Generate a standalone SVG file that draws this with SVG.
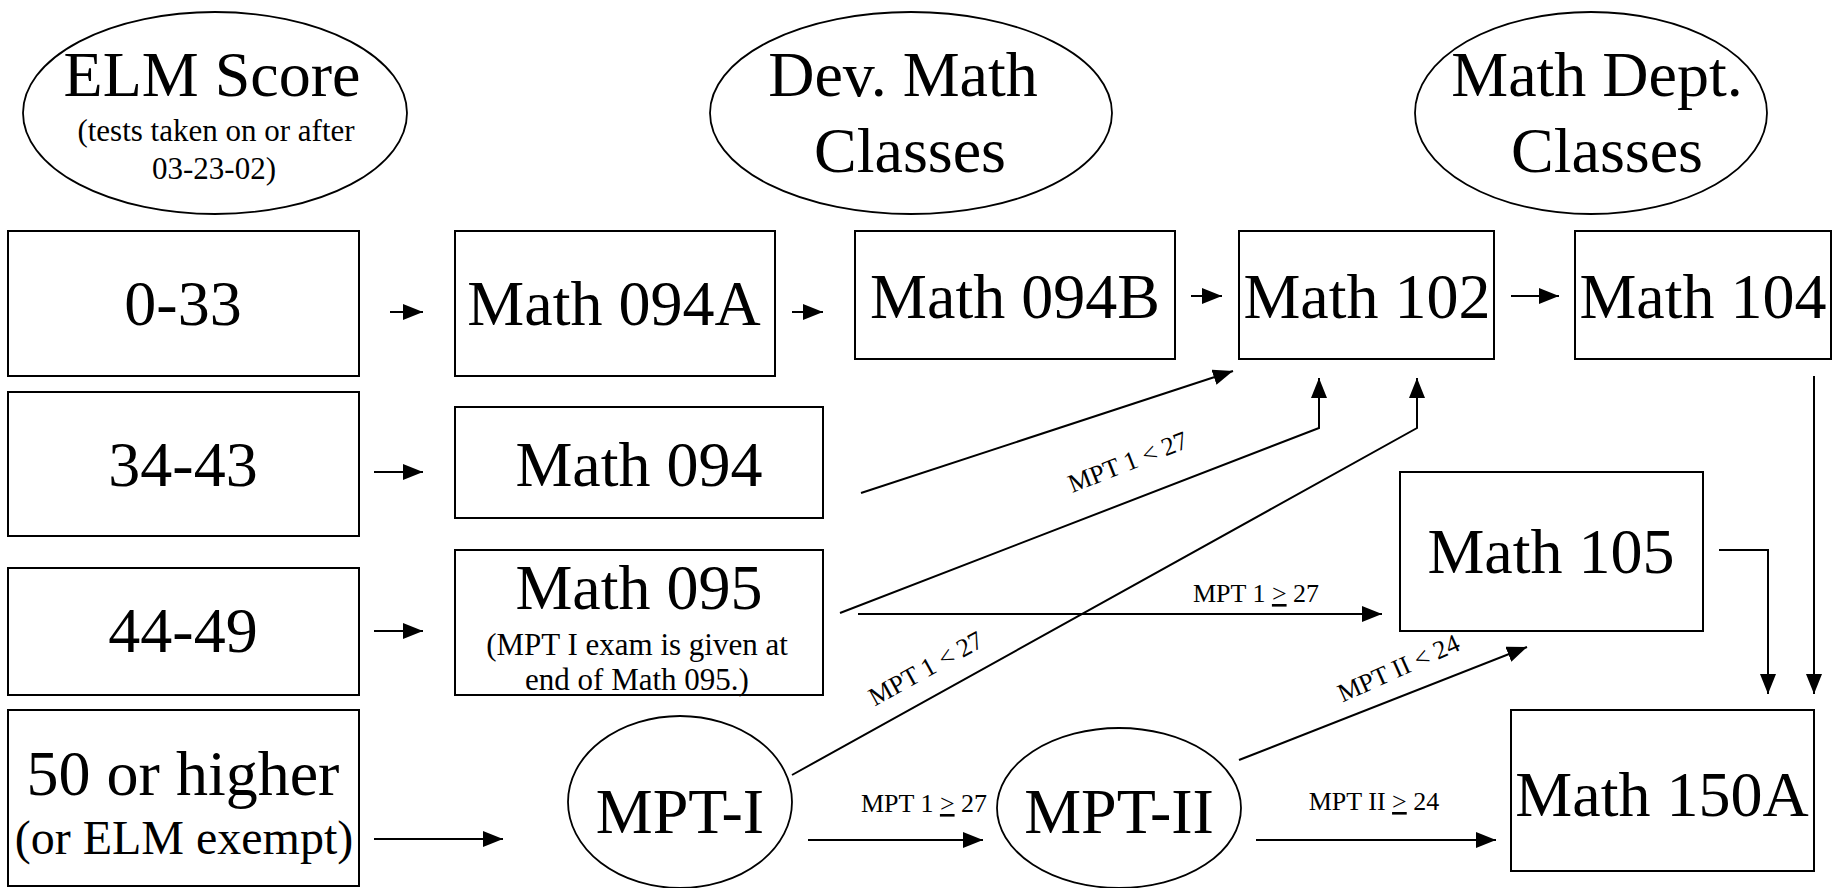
<svg xmlns="http://www.w3.org/2000/svg" width="1835" height="888" viewBox="0 0 1835 888" font-family="'Liberation Serif', 'Times New Roman', serif">
<style>
text{font-family:"Liberation Serif","Times New Roman",serif;fill:#000;text-anchor:middle}
.box{fill:#fff;stroke:#000;stroke-width:2}
.ell{fill:#fff;stroke:#000;stroke-width:1.8}
.big{font-size:64px}
.mid{font-size:48px}
.sm{font-size:31px}
.lbl{font-size:26px}
.u{text-decoration:underline}
.c{fill:none;stroke:#000;stroke-width:2}
</style>
<defs>
<marker id="ah" markerUnits="userSpaceOnUse" markerWidth="22" markerHeight="18" refX="20" refY="8" orient="auto">
<path d="M0,0 L20,8 L0,16 z" fill="#000"/>
</marker>
</defs>
<rect width="1835" height="888" fill="#fff"/>

<g id="elm-score">
<ellipse class="ell" cx="215" cy="113" rx="192" ry="101"/>
<text class="big" x="212" y="96">ELM Score</text>
<text class="sm" x="216" y="141">(tests taken on or after</text>
<text class="sm" x="214" y="179">03-23-02)</text>
</g>
<g id="dev-math">
<ellipse class="ell" cx="911" cy="113" rx="201" ry="101"/>
<text class="big" x="903" y="96">Dev. Math</text>
<text class="big" x="910" y="172">Classes</text>
</g>
<g id="math-dept">
<ellipse class="ell" cx="1591" cy="113" rx="176" ry="101"/>
<text class="big" x="1597" y="96">Math Dept.</text>
<text class="big" x="1607" y="172">Classes</text>
</g>

<g id="r0-33"><rect class="box" x="8" y="231" width="351" height="145"/><text class="big" x="183" y="325">0-33</text></g>
<g id="r34-43"><rect class="box" x="8" y="392" width="351" height="144"/><text class="big" x="183" y="486">34-43</text></g>
<g id="r44-49"><rect class="box" x="8" y="568" width="351" height="127"/><text class="big" x="183" y="652">44-49</text></g>
<g id="r50"><rect class="box" x="8" y="710" width="351" height="176"/><text class="big" x="183" y="795">50 or higher</text><text class="mid" x="184" y="854">(or ELM exempt)</text></g>

<g id="m094a"><rect class="box" x="455" y="231" width="320" height="145"/><text class="big" x="614" y="325">Math 094A</text></g>
<g id="m094b"><rect class="box" x="855" y="231" width="320" height="128"/><text class="big" x="1015" y="318">Math 094B</text></g>
<g id="m102"><rect class="box" x="1239" y="231" width="255" height="128"/><text class="big" x="1367" y="318">Math 102</text></g>
<g id="m104"><rect class="box" x="1575" y="231" width="256" height="128"/><text class="big" x="1703" y="318">Math 104</text></g>
<g id="m094"><rect class="box" x="455" y="407" width="368" height="111"/><text class="big" x="639" y="486">Math 094</text></g>
<g id="m095"><rect class="box" x="455" y="550" width="368" height="145"/><text class="big" x="639" y="609">Math 095</text><text class="sm" x="637" y="655">(MPT I exam is given at</text><text class="sm" x="637" y="690">end of Math 095.)</text></g>
<g id="m105"><rect class="box" x="1400" y="472" width="303" height="159"/><text class="big" x="1551" y="573">Math 105</text></g>
<g id="m150a"><rect class="box" x="1511" y="710" width="303" height="161"/><text class="big" x="1662" y="816">Math 150A</text></g>

<g id="mpt1"><ellipse class="ell" cx="680" cy="802" rx="112" ry="86"/><text class="big" x="680" y="833">MPT-I</text></g>
<g id="mpt2"><ellipse class="ell" cx="1119" cy="808" rx="122" ry="80"/><text class="big" x="1119" y="833">MPT-II</text></g>

<g id="connectors">
<line class="c" x1="390" y1="312" x2="423" y2="312" marker-end="url(#ah)"/>
<line class="c" x1="792" y1="312" x2="823" y2="312" marker-end="url(#ah)"/>
<line class="c" x1="1191" y1="296" x2="1222" y2="296" marker-end="url(#ah)"/>
<line class="c" x1="1511" y1="296" x2="1559" y2="296" marker-end="url(#ah)"/>
<line class="c" x1="374" y1="472" x2="423" y2="472" marker-end="url(#ah)"/>
<line class="c" x1="374" y1="631" x2="423" y2="631" marker-end="url(#ah)"/>
<line class="c" x1="374" y1="839" x2="503" y2="839" marker-end="url(#ah)"/>
<line class="c" x1="861" y1="493" x2="1233" y2="371" marker-end="url(#ah)"/>
<polyline class="c" points="840,613 1319,428 1319,378" marker-end="url(#ah)"/>
<polyline class="c" points="792,775 1417,428 1417,378" marker-end="url(#ah)"/>
<line class="c" x1="858" y1="614" x2="1382" y2="614" marker-end="url(#ah)"/>
<polyline class="c" points="1719,550 1768,550 1768,694" marker-end="url(#ah)"/>
<line class="c" x1="1814" y1="376" x2="1814" y2="694" marker-end="url(#ah)"/>
<line class="c" x1="808" y1="840" x2="983" y2="840" marker-end="url(#ah)"/>
<line class="c" x1="1239" y1="760" x2="1527" y2="647" marker-end="url(#ah)"/>
<line class="c" x1="1256" y1="840" x2="1496" y2="840" marker-end="url(#ah)"/>
<text class="lbl" transform="translate(1131,470) rotate(-21.5)">MPT 1 &lt; 27</text>
<text class="lbl" transform="translate(930,676) rotate(-29)">MPT 1 &lt; 27</text>
<text class="lbl" transform="translate(1402,676) rotate(-24)">MPT II &lt; 24</text>
<text class="lbl" x="1256" y="602">MPT 1 <tspan class="u">&gt;</tspan> 27</text>
<text class="lbl" x="924" y="812">MPT 1 <tspan class="u">&gt;</tspan> 27</text>
<text class="lbl" x="1374" y="810">MPT II <tspan class="u">&gt;</tspan> 24</text>
</g>
</svg>
